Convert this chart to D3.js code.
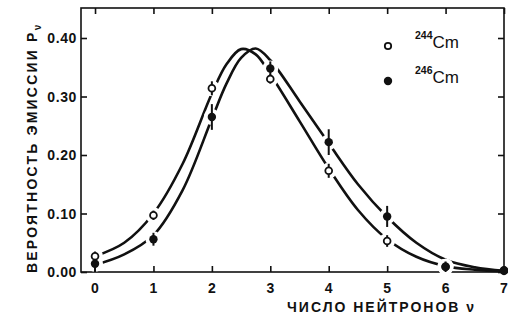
<!DOCTYPE html>
<html>
<head>
<meta charset="utf-8">
<script src="https://cdn.jsdelivr.net/npm/d3@7"></script>
<style>
  body { margin: 0; background: #fff; }
  text { font-family: "Liberation Sans", Arial, sans-serif; font-weight: bold; fill: #111; }
</style>
</head>
<body>
<svg id="chart" width="508" height="317"></svg>
<script>
// neutron number
const nu = [0, 1, 2, 3, 4, 5, 6, 7];

// measured emission probabilities
const cm244 = [0.027, 0.097, 0.314, 0.330, 0.173, 0.053, 0.009, 0.002];
const cm244Err = [0.008, 0.008, 0.012, 0.008, 0.012, 0.010, 0.006, 0.003];
const cm246 = [0.014, 0.056, 0.265, 0.348, 0.222, 0.095, 0.009, 0.003];
const cm246Err = [0.015, 0.011, 0.022, 0.012, 0.022, 0.018, 0.009, 0.004];

// fitted curves
const curveNu = [0, 0.5, 1, 1.5, 2, 2.25, 2.5, 2.75, 3, 3.5, 4, 4.5, 5, 5.5, 6, 6.5, 7];
const curve244 = [0.027, 0.050, 0.100, 0.185, 0.305, 0.355, 0.381, 0.372, 0.338, 0.258, 0.177, 0.106, 0.056, 0.026, 0.010, 0.004, 0.001];
const curve246 = [0.012, 0.030, 0.063, 0.140, 0.262, 0.322, 0.366, 0.382, 0.362, 0.292, 0.220, 0.150, 0.094, 0.050, 0.021, 0.008, 0.002];

const xTicks = [0, 1, 2, 3, 4, 5, 6, 7];
const yTicks = [0, 0.1, 0.2, 0.3, 0.4];

const svg = d3.select("#chart");
const mLeft = 81, mRight = 504, mTop = 8, mBottom = 272;

let x = d3.scaleLinear().domain([-0.24, 7]).range([mLeft, mRight]);
let y = d3.scaleLinear().domain([0, 0.4513]).range([mBottom, mTop]);

// frame
svg.append("rect")
    .attr("x", mLeft).attr("y", mTop)
    .attr("width", mRight - mLeft).attr("height", mBottom - mTop)
    .attr("fill", "none").attr("stroke", "#111").attr("stroke-width", 1.6);

// inward ticks on all four sides
svg.append("g").attr("transform", `translate(0,${mBottom})`)
    .call(d3.axisTop(x).tickValues(xTicks).tickSize(6).tickFormat(""))
    .call(g => g.select(".domain").remove());
svg.append("g").attr("transform", `translate(0,${mTop})`)
    .call(d3.axisBottom(x).tickValues(xTicks).tickSize(6).tickFormat(""))
    .call(g => g.select(".domain").remove());
svg.append("g").attr("transform", `translate(${mLeft},0)`)
    .call(d3.axisRight(y).tickValues(yTicks).tickSize(6).tickFormat(""))
    .call(g => g.select(".domain").remove());
svg.append("g").attr("transform", `translate(${mRight},0)`)
    .call(d3.axisLeft(y).tickValues(yTicks).tickSize(6).tickFormat(""))
    .call(g => g.select(".domain").remove());
svg.selectAll(".tick line").attr("stroke", "#111").attr("stroke-width", 1.6);

// tick labels
svg.append("g").selectAll("text").data(xTicks).join("text")
    .attr("x", d => x(d)).attr("y", 293)
    .attr("text-anchor", "middle").attr("font-size", 14)
    .text(d => d);
svg.append("g").selectAll("text").data(yTicks).join("text")
    .attr("x", 77).attr("y", d => y(d) + 5)
    .attr("text-anchor", "end").attr("font-size", 14)
    .attr("letter-spacing", 0.6)
    .text(d => d.toFixed(2));

// axis titles
svg.append("text")
    .attr("x", 287).attr("y", 312)
    .attr("font-size", 14).attr("letter-spacing", 2)
    .text("ЧИСЛО  НЕЙТРОНОВ  ν");
svg.append("text")
    .attr("transform", "translate(37,273) rotate(-90)")
    .attr("font-size", 14).attr("letter-spacing", 2.2)
    .text("ВЕРОЯТНОСТЬ  ЭМИССИИ  P")
    .append("tspan").attr("font-size", 10).attr("dy", 4).text("ν");

// curves
const line = d3.line()
    .x((d, i) => x(curveNu[i]))
    .y(d => y(d))
    .curve(d3.curveCatmullRom);
[curve244, curve246].forEach(c => {
    svg.append("path").datum(c)
        .attr("d", line)
        .attr("fill", "none").attr("stroke", "#111").attr("stroke-width", 2.6);
});

// white gaps around the points
const pts = [];
nu.forEach((n, i) => {
    pts.push({n, v: cm244[i], e: cm244Err[i], open: true});
    pts.push({n, v: cm246[i], e: cm246Err[i], open: false});
});
svg.append("g").selectAll("circle").data(pts.filter(d => d.n < 7)).join("circle")
    .attr("cx", d => x(d.n)).attr("cy", d => y(d.v)).attr("r", 8)
    .attr("fill", "#fff");

// error bars
svg.append("g").selectAll("line").data(pts).join("line")
    .attr("x1", d => x(d.n)).attr("x2", d => x(d.n))
    .attr("y1", d => y(Math.max(0, d.v - d.e))).attr("y2", d => y(d.v + d.e))
    .attr("stroke", "#111").attr("stroke-width", 2);

// markers
svg.append("g").selectAll("circle").data(pts).join("circle")
    .attr("cx", d => x(d.n)).attr("cy", d => y(d.v))
    .attr("r", d => d.open ? 3.4 : 4.2)
    .attr("fill", d => d.open ? "#fff" : "#111")
    .attr("stroke", "#111").attr("stroke-width", d => d.open ? 1.8 : 0);

// legend
const legend = [
    {mass: "244", open: true, yy: 46},
    {mass: "246", open: false, yy: 81}
];
legend.forEach(l => {
    svg.append("circle")
        .attr("cx", 388).attr("cy", l.yy).attr("r", l.open ? 3.2 : 4.2)
        .attr("fill", l.open ? "#fff" : "#111")
        .attr("stroke", "#111").attr("stroke-width", l.open ? 1.8 : 0);
    const t = svg.append("text").attr("x", 415).attr("y", l.yy + 2);
    t.append("tspan").attr("font-size", 10.5).attr("font-weight", "bold")
        .attr("dy", -9).text(l.mass);
    t.append("tspan").attr("font-size", 17).attr("font-weight", "normal")
        .attr("dy", 9).text("Cm");
});
</script>
</body>
</html>
